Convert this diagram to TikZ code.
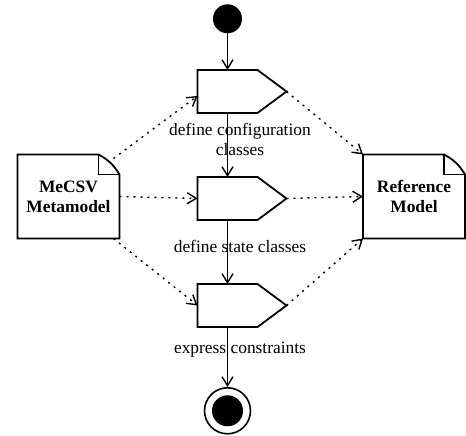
\documentclass[tikz,border=0pt]{standalone}
\usepackage{fontspec}
\setmainfont{Liberation Serif}
\usetikzlibrary{arrows.meta}
\usetikzlibrary{positioning}
\tikzstyle{flow}=[-{Straight Barb[length=9pt,width=11pt]},line width=1.4pt]
\tikzstyle{uses}=[-{Straight Barb[length=9pt,width=11pt]},line width=1.4pt,dash pattern=on 2pt off 5pt]

\begin{document}
\begin{tikzpicture}[x=1pt,y=1pt,node distance=64pt,font=\fontsize{17.4}{20}\selectfont]
    % caixas de acao e documentos
    \tikzstyle{act}=[rectangle,minimum width=60pt,minimum height=43pt,inner sep=0pt,outer sep=0pt]
    \tikzstyle{doc}=[rectangle,minimum width=102pt,minimum height=84pt,inner sep=0pt,outer sep=0pt,align=center,font=\fontsize{17.4}{20}\selectfont\bfseries]
    \tikzstyle{lbl}=[anchor=north,inner sep=0pt,align=center]

    \useasboundingbox (0,0) rectangle (466,436);

    % coluna do meio
    \node[act] (act2) at (227.5,237.5) {};
    \node[act] (act1) [above=of act2] {};
    \node[act] (act3) [below=of act2] {};
    \node[circle,fill=black,minimum size=29pt,inner sep=0pt] (start) [above=36.5pt of act1] {};
    \node[circle,draw,line width=1.6pt,minimum size=46pt,inner sep=0pt] (stop) [below=60pt of act3] {};
    \fill (stop.center) circle (15.5pt);

    % os dois documentos
    \node[doc] (meta) [left=78pt of act2, yshift=2pt] {MeCSV\\Metamodel};
    \node[doc] (ref) [right=105.5pt of act2, yshift=2pt] {Reference\\Model};

    \foreach \a in {act1,act2,act3}{
        \draw[line width=1.8pt] (\a.north west) -- (\a.north east) -- ([xshift=29pt]\a.east) -- (\a.south east) -- (\a.south west) -- cycle;
        \coordinate (tip-\a) at ([xshift=29pt]\a.east);
    }
    \foreach \d in {meta,ref}{
        \draw[line width=1.8pt] (\d.south west) -- (\d.north west) -- ([xshift=-21pt]\d.north east) to[bend left=15] ([yshift=-20pt]\d.north east) -- (\d.south east) -- cycle;
        \draw[line width=1.4pt] ([xshift=-21pt]\d.north east) -- ([xshift=-21pt,yshift=-20pt]\d.north east) -- ([yshift=-20pt]\d.north east);
    }

    \node[lbl] (lbl1) at ([xshift=12.5pt,yshift=-10pt]act1.south) {define configuration\\classes};
    \node[lbl] (lbl2) at ([xshift=12.5pt,yshift=-20pt]act2.south) {define state classes};
    \node[lbl] (lbl3) at ([xshift=12.5pt,yshift=-15pt]act3.south) {express constraints};

    \draw[flow] (start) -- (act1);
    \draw[flow] (act1) -- (act2);
    \draw[flow] (act2) -- (act3);
    \draw[flow] (act3) -- (stop);

    \draw[uses] ([xshift=-6pt,yshift=-4pt]meta.north east) -- ([yshift=-4.5pt]act1.west);
    \draw[uses] (meta.east) -- (act2.west);
    \draw[uses] ([xshift=-6pt]meta.south east) -- (act3.west);
    \draw[uses] (tip-act1) -- (ref.north west);
    \draw[uses] (tip-act2) -- (ref.west);
    \draw[uses] (tip-act3) -- (ref.south west);
\end{tikzpicture}
\end{document}
